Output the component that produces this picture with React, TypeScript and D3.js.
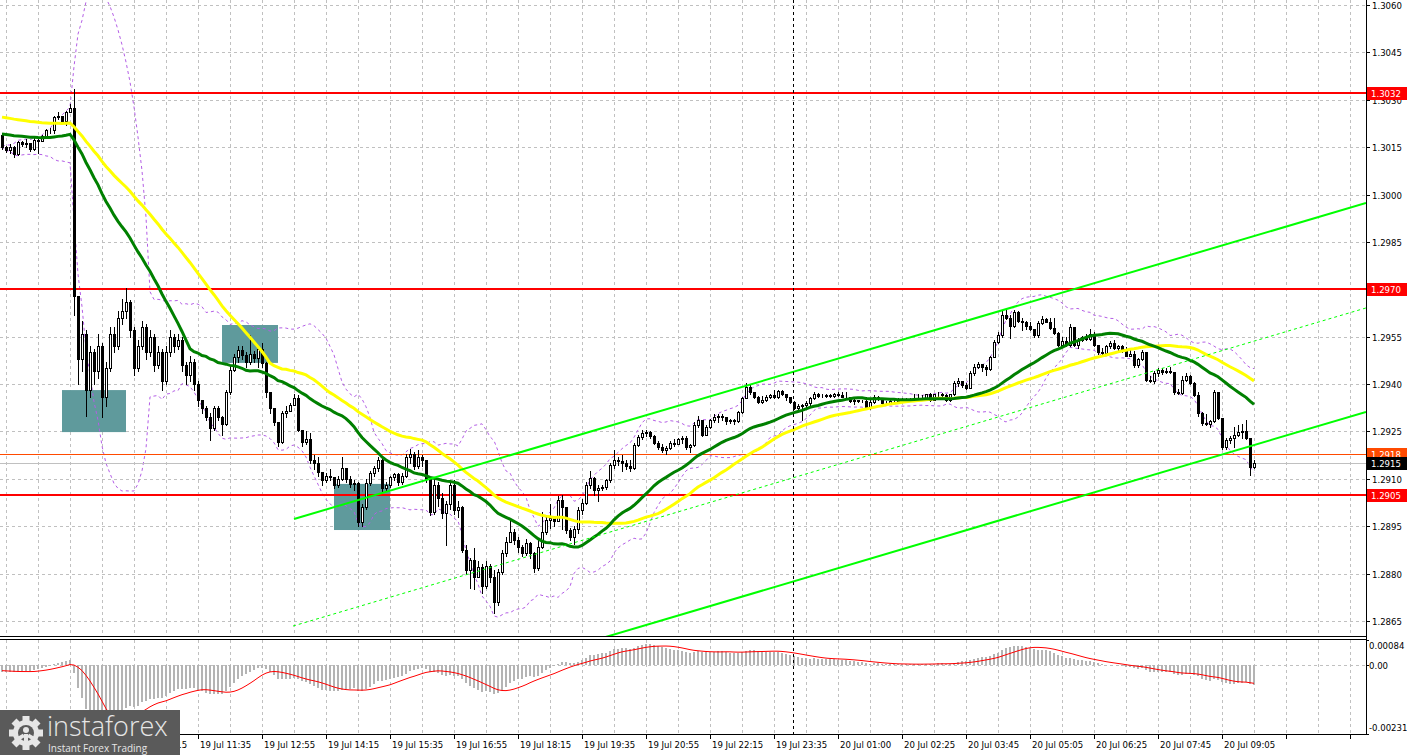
import React from 'react';
import * as d3 from 'd3';

const W = 1407;
const H = 755;

// ---- data: price offsets in pips above 1.2900 (5-minute bars) ----
const basePrice = 1.29;
const firstOpen = 118.8;
const closes: number[] = [
  115.2,114.2,115.0,112.8,116.5,116.0,116.2,114.3,117.4,117.0,
  118.4,120.3,120.4,124.4,124.8,123.4,126.2,127.4,68.0,48.0,
  56.0,38.0,50.0,44.0,52.0,36.0,45.0,56.0,52.0,61.0,
  63.0,66.0,57.0,45.0,52.0,58.0,50.0,55.0,46.0,50.0,
  41.0,50.0,55.0,52.0,54.0,46.0,43.0,47.0,40.0,35.0,
  32.3,29.6,26.1,32.4,29.6,27.5,37.5,44.5,48.6,50.8,
  49.2,47.0,49.5,48.2,51.0,46.7,37.5,32.4,28.0,21.7,
  30.8,31.6,33.4,35.6,25.5,21.7,22.5,16.0,15.0,12.2,
  9.6,11.0,10.5,8.0,10.0,13.4,10.0,8.5,8.7,-3.7,
  1.0,8.7,12.0,13.5,16.0,7.0,8.0,10.5,11.5,9.0,
  11.0,17.0,18.0,14.0,17.0,16.0,10.0,-0.5,8.0,4.0,
  -0.8,2.0,8.0,0.0,1.0,-12.5,-19.0,-15.7,-21.0,-18.0,
  -24.0,-17.5,-21.0,-29.0,-19.5,-13.5,-10.0,-6.8,-9.5,-11.6,
  -13.5,-10.3,-13.5,-18.2,-11.6,-6.8,-3.0,-2.5,-3.5,3.3,
  1.0,-6.2,-8.5,-6.0,0.0,2.3,8.0,10.3,6.5,7.0,
  7.3,9.5,14.3,16.0,15.8,15.0,14.0,13.5,20.7,23.2,
  24.5,24.8,23.5,21.5,20.0,19.0,19.8,21.5,21.0,22.5,
  22.8,20.0,20.7,27.0,28.6,24.0,26.4,28.6,29.6,29.9,
  29.5,28.2,28.6,28.2,31.2,35.6,39.0,37.5,36.0,34.3,
  35.0,35.8,36.5,36.0,37.8,36.8,35.8,34.3,32.4,33.2,
  33.5,34.0,35.6,37.0,36.3,36.3,36.5,36.3,37.0,36.5,
  36.0,35.8,34.6,35.0,34.6,34.8,32.5,34.3,36.0,35.2,
  34.0,34.0,34.5,34.5,35.0,35.4,35.4,35.2,35.6,35.4,
  35.4,36.8,35.0,36.8,37.0,36.6,35.0,36.8,40.3,41.0,
  39.7,38.9,43.5,45.4,46.2,45.3,44.8,48.6,53.3,55.5,
  62.0,61.0,58.5,62.8,60.0,59.6,58.5,57.3,55.5,59.3,
  60.5,59.8,57.8,56.2,52.4,53.5,52.5,58.0,52.4,54.0,
  55.0,54.3,56.0,52.4,50.0,49.8,52.0,53.0,51.5,52.0,
  50.5,49.0,49.5,46.0,47.8,50.0,41.3,41.0,43.5,44.5,
  43.8,44.2,43.8,37.5,37.2,41.3,42.5,40.3,36.5,31.0,
  27.7,27.5,28.2,37.5,29.3,20.0,22.3,22.8,23.8,24.8,
  25.0,23.0,13.8,15.0,
];
const highs: number[] = [
  119.5,115.5,116.0,115.5,117.0,116.8,117.5,116.3,117.8,117.8,
  118.8,120.7,121.2,124.8,126.0,125.0,126.6,128.8,133.5,68.0,
  60.0,57.0,52.0,51.0,56.0,53.0,47.0,58.0,58.0,63.0,
  67.0,70.5,66.5,58.0,54.0,60.0,59.0,57.0,56.0,52.0,
  51.0,52.0,57.0,56.0,56.0,55.0,47.0,49.0,48.0,41.0,
  35.0,33.0,31.0,33.0,33.0,30.0,38.0,46.0,49.5,52.0,
  52.0,50.0,55.5,50.5,52.0,53.0,47.0,37.0,32.0,26.0,
  31.5,33.0,34.0,36.8,36.5,25.0,25.0,24.5,17.5,17.0,
  12.0,12.0,13.0,10.5,11.0,17.0,13.5,11.0,9.5,9.0,
  2.0,10.0,12.5,14.0,16.8,17.0,9.0,11.0,12.0,12.0,
  12.0,18.0,19.5,18.5,19.0,17.5,16.0,10.0,10.3,9.0,
  5.5,3.0,9.0,9.5,3.0,1.5,-11.0,-15.0,-12.0,-16.0,
  -17.0,-16.0,-17.0,-19.0,-18.5,-12.5,-8.5,-3.0,-6.0,-8.5,
  -11.0,-9.0,-10.0,-13.0,-9.5,-0.5,-2.0,2.0,-2.0,4.5,
  5.0,1.2,-5.5,-5.0,1.0,3.5,9.0,12.5,10.5,8.0,
  8.0,10.0,15.0,19.0,17.0,17.5,16.0,16.0,21.5,24.0,
  25.5,25.5,25.0,24.0,22.0,21.0,20.5,22.0,22.5,23.0,
  23.5,23.5,21.0,28.0,30.0,28.5,27.0,29.0,30.5,30.5,
  30.5,29.5,29.0,29.0,31.5,36.0,40.3,39.8,37.5,36.3,
  36.2,36.5,37.0,38.0,38.2,38.2,37.0,36.0,34.5,33.8,
  33.8,34.5,36.0,37.5,37.3,36.8,36.8,36.8,37.3,37.5,
  37.5,37.5,35.3,35.3,35.0,35.0,35.8,35.5,36.5,36.3,
  35.5,34.5,35.0,35.0,35.5,35.6,35.6,35.6,36.8,36.8,
  36.5,37.0,37.3,37.0,37.5,37.2,36.8,37.0,41.0,42.0,
  41.0,40.2,44.0,46.5,47.0,46.5,46.0,49.0,54.0,56.5,
  63.5,63.6,62.0,63.5,63.0,61.0,60.0,59.5,57.5,60.0,
  61.5,61.0,61.0,61.0,56.5,55.0,54.8,59.0,58.0,54.5,
  55.3,56.0,57.5,56.5,52.5,51.5,52.5,53.5,54.0,52.5,
  52.5,51.8,51.5,50.5,48.2,50.8,50.0,42.5,44.0,45.0,
  45.0,45.0,45.5,43.8,38.5,42.5,43.5,43.0,40.5,37.5,
  31.2,30.5,28.5,38.0,37.5,29.3,22.8,23.5,26.5,27.0,
  27.5,28.5,23.0,16.0,
];
const lows: number[] = [
  114.5,113.5,113.0,112.0,112.5,115.5,115.0,113.8,114.2,113.0,
  116.8,118.2,119.5,119.4,123.8,123.0,122.0,126.0,62.0,40.0,
  44.0,30.0,36.0,40.0,42.0,29.5,33.0,44.0,50.0,51.0,
  59.0,61.0,55.0,43.0,44.0,51.0,48.0,49.0,44.0,45.0,
  38.0,40.0,49.0,50.0,51.0,44.0,40.0,41.0,38.0,33.0,
  31.0,28.5,22.3,25.5,28.5,24.0,27.0,37.0,44.0,47.0,
  48.0,45.5,46.5,47.0,45.5,45.5,36.0,31.0,27.0,20.5,
  21.5,29.5,31.5,33.5,25.0,20.5,21.0,15.0,13.0,11.0,
  8.0,9.0,9.5,7.0,7.5,9.5,9.0,7.5,6.5,-5.0,
  -4.8,0.5,8.0,11.0,12.5,6.0,6.5,7.5,9.5,8.0,
  8.5,10.5,15.0,13.0,13.5,14.0,9.0,-1.5,-1.0,1.5,
  -2.5,-11.0,0.5,-1.0,-2.0,-13.0,-20.0,-24.5,-25.0,-21.0,
  -26.0,-24.5,-22.5,-32.5,-30.0,-20.0,-14.5,-10.0,-10.5,-13.0,
  -14.5,-14.0,-15.0,-19.5,-19.0,-12.0,-7.5,-5.5,-5.0,-3.5,
  -6.0,-7.0,-9.5,-10.5,-7.0,-1.0,2.0,7.0,5.0,3.0,
  6.5,6.8,9.0,13.5,14.5,12.5,13.0,12.5,13.0,20.5,
  22.5,23.5,23.0,21.0,19.5,18.5,18.0,19.5,20.5,21.0,
  21.5,19.5,18.5,20.5,26.5,23.5,24.0,26.0,28.0,28.0,
  28.5,27.5,27.8,27.5,28.0,31.0,35.5,37.0,35.5,34.0,
  34.0,34.5,35.5,35.5,35.5,36.5,35.0,34.0,32.0,32.0,
  28.6,32.5,33.5,35.3,36.0,35.8,35.8,35.8,36.0,36.2,
  35.8,35.5,34.3,33.8,34.2,34.2,32.2,32.2,34.0,35.0,
  33.8,33.5,33.8,34.0,34.2,34.5,35.0,35.0,35.3,35.0,
  35.0,35.0,34.8,35.0,36.0,35.5,34.8,34.5,36.5,39.5,
  39.2,38.5,38.8,43.0,45.0,44.0,42.8,44.5,49.5,53.0,
  55.0,60.5,54.5,58.0,59.5,57.0,57.5,57.0,55.0,55.0,
  59.0,59.5,57.5,55.8,52.0,52.0,52.0,52.0,52.0,51.5,
  53.5,54.0,54.0,52.0,49.5,49.5,49.5,51.5,51.0,50.5,
  50.0,48.8,49.0,45.5,45.3,47.5,41.0,40.5,40.2,42.5,
  43.2,43.5,43.5,37.0,37.0,37.0,41.0,40.0,36.2,30.0,
  27.0,27.2,26.5,28.0,28.8,19.5,19.3,21.5,20.0,23.5,
  23.0,22.5,11.2,13.5,
];

const priorAvgFast = 119.3;   // green MA(30) level at the first bar
const priorAvgSlow = 124.7;   // yellow MA(50) level at the first bar
const emaSeed12 = 117.0;
const emaSeed26 = 119.5;
const signalSeed = -0.00018;

// axis labels
const priceTicks = [1.3060, 1.3045, 1.3030, 1.3015, 1.3000, 1.2985, 1.2970, 1.2955, 1.2940, 1.2925, 1.2910, 1.2895, 1.2880, 1.2865];
const timeLabels = [
  '19 Jul 07:35', '19 Jul 08:55', '19 Jul 10:15', '19 Jul 11:35', '19 Jul 12:55', '19 Jul 14:15',
  '19 Jul 15:35', '19 Jul 16:55', '19 Jul 18:15', '19 Jul 19:35', '19 Jul 20:55', '19 Jul 22:15',
  '19 Jul 23:35', '20 Jul 01:00', '20 Jul 02:25', '20 Jul 03:45', '20 Jul 05:05', '20 Jul 06:25',
  '20 Jul 07:45', '20 Jul 09:05',
];
const macdTicks = [0.00084, 0.0, -0.00231];
const macdTickText = ['0.00084', '0.00', '-0.00231'];

// drawn objects (bar index, price)
const redLevels = [1.3032, 1.2970, 1.2905];
const orangeLevel = 1.2918;
const bidLevel = 1.2915;
const channelUpper: [number, number][] = [[73, 1.28973], [341, 1.29973]];
const channelLower: [number, number][] = [[150, 1.28596], [341, 1.29312]];
const channelMid: [number, number][] = [[72.75, 1.28634], [341, 1.29641]];
const zones: [number, number, number, number][] = [
  [15, 31, 1.29381, 1.29248],
  [55, 69, 1.29587, 1.29467],
  [83, 97, 1.29084, 1.28938],
];
const separatorBar = 197.75;

const FONT = "'DejaVu Sans Condensed', 'DejaVu Sans', sans-serif";
const LOGO_W = 180;

function App() {
  const n = closes.length;
  const opens = closes.map((c, i) => (i === 0 ? firstOpen : closes[i - 1]));
  const P = (v: number) => basePrice + v / 10000;

  const x = d3.scaleLinear().domain([0, 313]).range([2, 1254]);
  const y = d3.scaleLinear().domain([1.2865, 1.306]).range([621, 5]);
  const ym = d3.scaleLinear().domain([-0.00231, 0.00084]).range([734, 640]);

  const smaPrior = (len: number, prior: number) =>
    closes.map((_, i) => {
      let s = 0;
      for (let j = i - len + 1; j <= i; j++) s += j >= 0 ? closes[j] : prior;
      return s / len;
    });
  const maFast = smaPrior(30, priorAvgFast);
  const maSlow = smaPrior(50, priorAvgSlow);

  const bbUp: number[] = [];
  const bbDn: number[] = [];
  closes.forEach((_, i) => {
    const w = closes.slice(Math.max(0, i - 19), i + 1);
    const m = d3.mean(w) as number;
    const sd = Math.sqrt(d3.mean(w.map((v) => (v - m) * (v - m))) as number);
    bbUp.push(m + 2 * sd);
    bbDn.push(m - 2 * sd);
  });

  const ema = (len: number, seed: number) => {
    const k = 2 / (len + 1);
    const out: number[] = [];
    let e = seed;
    closes.forEach((c) => {
      e = e + k * (c - e);
      out.push(e);
    });
    return out;
  };
  const e12 = ema(12, emaSeed12);
  const e26 = ema(26, emaSeed26);
  const macd = e12.map((v, i) => (v - e26[i]) / 10000);
  const signal = macd.map((_, i) => {
    let s = 0;
    for (let j = i - 8; j <= i; j++) s += j >= 0 ? macd[j] : signalSeed;
    return s / 9;
  });

  const idx = d3.range(n);
  const pipLine = (arr: number[]) =>
    d3.line<number>().x((i) => x(i)).y((i) => y(P(arr[i])))(idx) as string;
  const segLine = (pts: [number, number][]) =>
    d3.line<[number, number]>().x((d) => x(d[0])).y((d) => y(d[1]))(pts) as string;
  const sigPath = d3.line<number>().x((i) => x(i)).y((i) => ym(signal[i]))(idx) as string;

  const gridBars = d3.range(0, 43).map((k) => 1 + 8 * k);
  const tickBars = d3.range(0, 22).map((k) => 1 + 16 * k);
  const AX = 1366;

  // time labels: the logo covers the left of the axis; labels entirely under it are not drawn
  const labelItems = timeLabels
    .map((t, k) => ({ t, bx: x(1 + 16 * k) + 2 }))
    .filter((d) => d.bx + 48 > LOGO_W);

  const tag = (price: number, bg: string, fg: string, key: string) => {
    const yy = Math.round(y(price));
    return (
      <g key={key}>
        <rect x={AX + 1} y={yy - 6} width={40} height={13} fill={bg} />
        <text x={AX + 5} y={yy + 4} fontSize={9.5} fill={fg} fontFamily={FONT}>
          {price.toFixed(4)}
        </text>
      </g>
    );
  };

  return (
    <svg width={W} height={H} style={{ position: 'absolute', left: 0, top: 0, background: '#fff' }}>
      <defs>
        <clipPath id="mainClip">
          <rect x={0} y={0} width={AX} height={636} />
        </clipPath>
        <clipPath id="macdClip">
          <rect x={0} y={640} width={AX} height={94} />
        </clipPath>
        <clipPath id="labelClip">
          <rect x={LOGO_W} y={736} width={W - LOGO_W} height={19} />
        </clipPath>
      </defs>
      <rect x={0} y={0} width={W} height={H} fill="#fff" />

      {/* grid */}
      <g stroke="#c0c0c0" strokeDasharray="3,3" strokeWidth={1} shapeRendering="crispEdges">
        {gridBars.map((b) => (
          <line key={'vg' + b} x1={x(b) + 0.5} x2={x(b) + 0.5} y1={0} y2={636} />
        ))}
        {gridBars.map((b) => (
          <line key={'vgm' + b} x1={x(b) + 0.5} x2={x(b) + 0.5} y1={640} y2={734} />
        ))}
        {priceTicks.map((p) => (
          <line key={'hg' + p} x1={0} x2={AX} y1={Math.round(y(p)) + 0.5} y2={Math.round(y(p)) + 0.5} />
        ))}
        <line x1={0} x2={AX} y1={Math.round(ym(0)) + 0.5} y2={Math.round(ym(0)) + 0.5} />
      </g>

      <g clipPath="url(#mainClip)">
        {/* zones */}
        {zones.map((z, k) => (
          <rect
            key={'z' + k}
            x={x(z[0])}
            y={y(z[2])}
            width={x(z[1]) - x(z[0])}
            height={y(z[3]) - y(z[2])}
            fill="#5f9a9c"
          />
        ))}

        {/* Bollinger bands */}
        <path d={pipLine(bbUp)} fill="none" stroke="#b45ee6" strokeWidth={1} strokeDasharray="3,3" />
        <path d={pipLine(bbDn)} fill="none" stroke="#b45ee6" strokeWidth={1} strokeDasharray="3,3" />

        {/* horizontal levels */}
        {redLevels.map((p) => (
          <line key={'rl' + p} x1={0} x2={AX} y1={Math.round(y(p))} y2={Math.round(y(p))} stroke="#ff0000" strokeWidth={2} />
        ))}
        <line x1={0} x2={AX} y1={Math.round(y(orangeLevel)) + 0.5} y2={Math.round(y(orangeLevel)) + 0.5} stroke="#ff4a00" strokeWidth={1} />
        <line x1={0} x2={AX} y1={Math.round(y(bidLevel)) + 0.5} y2={Math.round(y(bidLevel)) + 0.5} stroke="#c0c0c0" strokeWidth={1} />

        {/* candles */}
        <g shapeRendering="crispEdges">
          {idx.map((i) => {
            const o = opens[i];
            const c = closes[i];
            const hi = Math.max(highs[i], o, c);
            const lo = Math.min(lows[i], o, c);
            const cx = Math.round(x(i));
            const yT = Math.round(y(P(Math.max(o, c))));
            const yB = Math.round(y(P(Math.min(o, c))));
            const bull = c >= o;
            return (
              <g key={'c' + i}>
                <line x1={cx + 0.5} x2={cx + 0.5} y1={Math.round(y(P(hi)))} y2={Math.round(y(P(lo))) + 1} stroke="#000" />
                <rect
                  x={cx - 0.5}
                  y={yT + 0.5}
                  width={2}
                  height={Math.max(yB - yT, 0)}
                  fill={bull ? '#fff' : '#000'}
                  stroke="#000"
                  strokeWidth={1}
                />
              </g>
            );
          })}
        </g>

        {/* moving averages */}
        <path d={pipLine(maSlow)} fill="none" stroke="#ffff00" strokeWidth={3} />
        <path d={pipLine(maFast)} fill="none" stroke="#008000" strokeWidth={3} />

        {/* channel */}
        <path d={segLine(channelUpper)} fill="none" stroke="#00ff00" strokeWidth={2} />
        <path d={segLine(channelLower)} fill="none" stroke="#00ff00" strokeWidth={2} />
        <path d={segLine(channelMid)} fill="none" stroke="#00ff00" strokeWidth={1} strokeDasharray="3,3" />
      </g>

      {/* MACD */}
      <g clipPath="url(#macdClip)">
        <g shapeRendering="crispEdges">
          {idx.map((i) => {
            const y0 = ym(0);
            const y1 = ym(macd[i]);
            return (
              <rect
                key={'h' + i}
                x={Math.round(x(i)) - 1}
                y={Math.min(y0, y1)}
                width={2}
                height={Math.abs(y1 - y0)}
                fill="#b4b4b4"
              />
            );
          })}
        </g>
        <path d={sigPath} fill="none" stroke="#ff0000" strokeWidth={1} />
      </g>

      {/* separator */}
      <line x1={Math.round(x(separatorBar)) + 0.5} x2={Math.round(x(separatorBar)) + 0.5} y1={0} y2={734} stroke="#000" strokeDasharray="3,3" shapeRendering="crispEdges" />

      {/* frames */}
      <g stroke="#000" strokeWidth={1} shapeRendering="crispEdges">
        <line x1={0} x2={AX} y1={636.5} y2={636.5} />
        <line x1={0} x2={AX} y1={639.5} y2={639.5} />
        <line x1={0} x2={AX + 1} y1={734.5} y2={734.5} />
        <line x1={AX + 0.5} x2={AX + 0.5} y1={0} y2={735} />
        {priceTicks.map((p) => (
          <line key={'pt' + p} x1={AX} x2={AX + 4} y1={Math.round(y(p)) + 0.5} y2={Math.round(y(p)) + 0.5} />
        ))}
        {macdTicks.map((v, k) => (
          <line key={'mt' + k} x1={AX} x2={AX + 3} y1={Math.round(ym(v)) + 0.5} y2={Math.round(ym(v)) + 0.5} />
        ))}
        {tickBars.map((b) => (
          <line key={'tt' + b} x1={x(b) + 0.5} x2={x(b) + 0.5} y1={735} y2={739} />
        ))}
      </g>

      {/* price labels */}
      <g fontFamily={FONT} fontSize={9.5} fill="#000">
        {priceTicks.map((p) => (
          <text key={'pl' + p} x={AX + 6} y={Math.round(y(p)) + 4}>
            {p.toFixed(4)}
          </text>
        ))}
        {macdTicks.map((v, k) => (
          <text
            key={'ml' + k}
            x={AX + 3}
            y={k === 0 ? 649 : k === 1 ? Math.round(ym(v)) + 4 : 731}
          >
            {macdTickText[k]}
          </text>
        ))}
        <g clipPath="url(#labelClip)">
          {labelItems.map((d) => (
            <text key={'tl' + d.t} x={d.bx} y={748}>
              {d.t}
            </text>
          ))}
        </g>
      </g>

      {/* level tags */}
      {redLevels.map((p) => tag(p, '#ff0000', '#fff', 'tg' + p))}
      {tag(orangeLevel, '#ff4a00', '#fff', 'tgo')}
      {tag(bidLevel, '#000', '#fff', 'tgb')}

      {/* logo */}
      <g>
        <rect x={0} y={710} width={LOGO_W} height={45} fill="#5a5a5a" />
        <g transform="translate(26,733)" fill="#e6e6e6">
          {d3.range(8).map((k) => (
            <rect key={'gt' + k} x={-3.5} y={-17} width={7} height={7} transform={`rotate(${k * 45})`} />
          ))}
          <circle r={13} />
          <circle r={8} fill="#5a5a5a" />
          <circle cy={-3} r={3} fill="#e6e6e6" />
          <rect x={-2} y={1} width={4} height={14} fill="#e6e6e6" />
          <rect x={-9} y={-1} width={6} height={4} fill="#e6e6e6" transform="rotate(-30)" />
          <rect x={3} y={-1} width={6} height={4} fill="#e6e6e6" transform="rotate(30)" />
        </g>
        <text x={47} y={736} fontFamily="'Open Sans', Lato, sans-serif" fontWeight={300} fontSize={27} fill="#e6e6e6">
          instaforex
        </text>
        <text x={48} y={752} fontFamily="'Open Sans', Lato, sans-serif" fontSize={10} fill="#e6e6e6">
          Instant Forex Trading
        </text>
      </g>
    </svg>
  );
}

export default App;
